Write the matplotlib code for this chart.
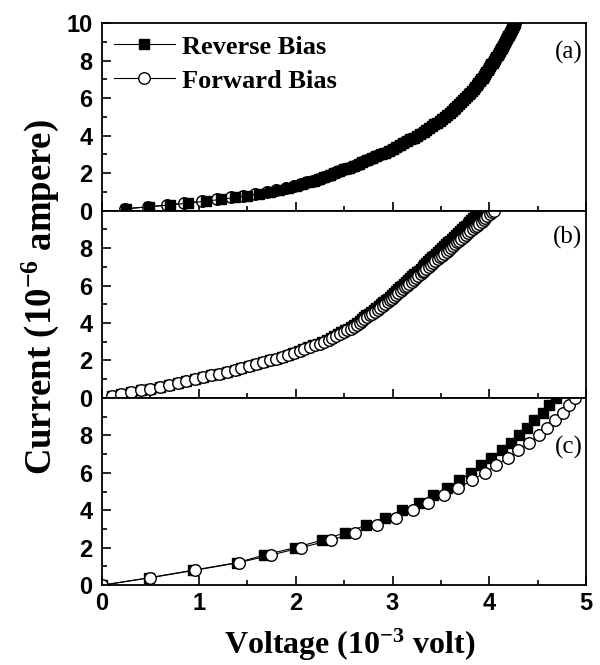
import matplotlib
matplotlib.use("Agg")
import matplotlib.pyplot as plt
import numpy as np
from matplotlib.ticker import MultipleLocator
from matplotlib.font_manager import FontProperties

# current setpoints of the sweep (10^-6 A), 0.1 steps for (a) and (b), 0.4 steps for (c)
current_ab = np.round(np.arange(1, 101) * 0.1, 1)
current_c = np.round(np.arange(0, 26) * 0.4, 1)

# voltages (10^-3 V)
reverse_a = [0.25, 0.49, 0.70, 0.89, 1.07, 1.23, 1.37, 1.50, 1.62, 1.73,
             1.83, 1.92, 2.00, 2.07, 2.13, 2.19, 2.24, 2.29, 2.35, 2.40,
             2.45, 2.50, 2.55, 2.60, 2.65, 2.69, 2.74, 2.79, 2.83, 2.88,
             2.92, 2.96, 3.00, 3.04, 3.08, 3.11, 3.15, 3.18, 3.22, 3.25,
             3.28, 3.32, 3.35, 3.38, 3.41, 3.43, 3.46, 3.49, 3.51, 3.54,
             3.56, 3.59, 3.61, 3.63, 3.65, 3.67, 3.69, 3.71, 3.73, 3.75,
             3.77, 3.79, 3.80, 3.82, 3.84, 3.85, 3.87, 3.88, 3.90, 3.91,
             3.93, 3.94, 3.96, 3.97, 3.99, 4.00, 4.01, 4.02, 4.04, 4.05,
             4.06, 4.07, 4.09, 4.10, 4.11, 4.12, 4.13, 4.14, 4.15, 4.16,
             4.17, 4.18, 4.19, 4.20, 4.21, 4.22, 4.23, 4.24, 4.25, 4.26]
forward_a = [0.24, 0.47, 0.67, 0.85, 1.03, 1.19, 1.33, 1.46, 1.58, 1.70,
             1.80, 1.90, 1.98, 2.05, 2.12, 2.18, 2.24, 2.29, 2.35, 2.40,
             2.45, 2.50, 2.55, 2.60, 2.65, 2.69, 2.74, 2.79, 2.83, 2.88,
             2.92, 2.96, 3.00, 3.04, 3.08, 3.11, 3.15, 3.18, 3.22, 3.25,
             3.28, 3.32, 3.35, 3.38, 3.41, 3.43, 3.46, 3.49, 3.51, 3.54,
             3.56, 3.59, 3.61, 3.63, 3.65, 3.67, 3.69, 3.71, 3.73, 3.75,
             3.77, 3.79, 3.80, 3.82, 3.84, 3.85, 3.87, 3.88, 3.90, 3.91,
             3.93, 3.94, 3.96, 3.97, 3.99, 4.00, 4.01, 4.02, 4.04, 4.05,
             4.06, 4.07, 4.09, 4.10, 4.11, 4.12, 4.13, 4.14, 4.15, 4.16,
             4.17, 4.18, 4.19, 4.20, 4.21, 4.22, 4.23, 4.24, 4.25, 4.26]

reverse_b = [0.10, 0.20, 0.30, 0.40, 0.50, 0.60, 0.69, 0.78, 0.87, 0.96,
             1.04, 1.13, 1.21, 1.29, 1.37, 1.44, 1.52, 1.59, 1.66, 1.73,
             1.80, 1.86, 1.92, 1.97, 2.03, 2.08, 2.13, 2.18, 2.23, 2.27,
             2.32, 2.36, 2.40, 2.44, 2.47, 2.51, 2.54, 2.57, 2.60, 2.63,
             2.66, 2.68, 2.71, 2.73, 2.76, 2.78, 2.81, 2.83, 2.86, 2.88,
             2.90, 2.93, 2.95, 2.97, 2.99, 3.02, 3.04, 3.06, 3.08, 3.10,
             3.12, 3.14, 3.16, 3.18, 3.20, 3.22, 3.25, 3.27, 3.29, 3.31,
             3.33, 3.35, 3.37, 3.39, 3.41, 3.43, 3.45, 3.47, 3.49, 3.51,
             3.53, 3.55, 3.57, 3.59, 3.61, 3.63, 3.66, 3.68, 3.70, 3.72,
             3.74, 3.76, 3.78, 3.79, 3.81, 3.83, 3.85, 3.87, 3.89, 3.91]
forward_b = [0.10, 0.20, 0.30, 0.40, 0.50, 0.60, 0.69, 0.78, 0.87, 0.96,
             1.04, 1.13, 1.21, 1.29, 1.37, 1.44, 1.52, 1.59, 1.66, 1.73,
             1.80, 1.86, 1.92, 1.98, 2.04, 2.09, 2.15, 2.20, 2.25, 2.29,
             2.34, 2.38, 2.42, 2.46, 2.50, 2.53, 2.57, 2.60, 2.63, 2.66,
             2.69, 2.71, 2.74, 2.77, 2.79, 2.82, 2.85, 2.87, 2.90, 2.92,
             2.95, 2.97, 2.99, 3.02, 3.04, 3.06, 3.09, 3.11, 3.13, 3.15,
             3.17, 3.20, 3.22, 3.24, 3.26, 3.29, 3.31, 3.33, 3.35, 3.38,
             3.40, 3.42, 3.44, 3.47, 3.49, 3.51, 3.53, 3.56, 3.58, 3.60,
             3.62, 3.65, 3.67, 3.69, 3.71, 3.74, 3.76, 3.78, 3.80, 3.83,
             3.85, 3.87, 3.89, 3.92, 3.94, 3.96, 3.98, 4.01, 4.03, 4.05]

reverse_c = [0.00, 0.49, 0.94, 1.39, 1.67, 1.99, 2.27, 2.51, 2.73, 2.92,
             3.10, 3.27, 3.42, 3.56, 3.69, 3.81, 3.91, 4.02, 4.13, 4.22,
             4.31, 4.39, 4.46, 4.55, 4.62, 4.69]
forward_c = [0.00, 0.50, 0.96, 1.41, 1.74, 2.05, 2.36, 2.61, 2.84, 3.04,
             3.21, 3.37, 3.53, 3.68, 3.82, 3.95, 4.07, 4.19, 4.30, 4.41,
             4.51, 4.60, 4.68, 4.76, 4.82, 4.88]

panel_tags = ['(a)', '(b)', '(c)']
tag_y = [0.845, 0.855, 0.735]

serif_bold = 'Liberation Serif'
plt.rcParams['font.family'] = ['Liberation Sans', 'DejaVu Sans']
plt.rcParams['font.weight'] = 'bold'
plt.rcParams['mathtext.fontset'] = 'custom'
plt.rcParams['mathtext.rm'] = 'Liberation Serif:bold'
plt.rcParams['mathtext.it'] = 'Liberation Serif:bold'
plt.rcParams['mathtext.bf'] = 'Liberation Serif:bold'

fig, axes = plt.subplots(3, 1, sharex=True, figsize=(6, 6.65), dpi=100)
fig.subplots_adjust(left=0.17, right=0.977, top=0.965, bottom=0.12, hspace=0)

rev_style = dict(color='black', lw=0.8, marker='s', ms=7.8, mfc='black', mec='black')
fwd_style = dict(color='black', lw=0.8, marker='o', ms=8.3, mfc='white', mec='black', mew=1.0)

data = [(reverse_a, forward_a, current_ab),
        (reverse_b, forward_b, current_ab),
        (reverse_c, forward_c, current_c)]

for i, (ax, (rev, fwd, cur)) in enumerate(zip(axes, data)):
    if i == 0:
        # squares sit on top of the circles in the first panel
        l_fwd, = ax.plot(fwd, cur, label='Forward Bias', **fwd_style)
        l_rev, = ax.plot(rev, cur, label='Reverse Bias', **rev_style)
        leg_handles = [l_rev, l_fwd]
    else:
        ax.plot(rev, cur, **rev_style)
        ax.plot(fwd, cur, **fwd_style)

    ax.set_xlim(0, 5)
    ax.set_ylim(0, 10)
    if i == 0:
        ax.set_yticks([0, 2, 4, 6, 8, 10])
    else:
        ax.set_yticks([0, 2, 4, 6, 8])
    ax.yaxis.set_minor_locator(MultipleLocator(1))
    ax.xaxis.set_major_locator(MultipleLocator(1))
    ax.xaxis.set_minor_locator(MultipleLocator(0.5))
    ax.tick_params(which='both', direction='in', top=False, right=False, width=1.2)
    ax.tick_params(which='major', length=6.5, labelsize=17)
    ax.tick_params(axis='y', which='major', pad=7)
    ax.tick_params(axis='x', which='major', pad=5)
    ax.tick_params(which='minor', length=3.5)
    for sp in ax.spines.values():
        sp.set_linewidth(1.3)
    ax.text(0.992, tag_y[i], panel_tags[i], transform=ax.transAxes, ha='right',
            va='center', family=serif_bold, fontweight='normal', fontsize=18)

leg = axes[0].legend(handles=leg_handles, loc='upper left', frameon=False,
                     prop=FontProperties(family=serif_bold, weight='bold', size=19),
                     handlelength=2.3, handletextpad=0.3, borderpad=0.25,
                     borderaxespad=0.2, labelspacing=0.4)

axes[2].set_xlabel('Voltage (10$^{-3}$ volt)', family=serif_bold, fontweight='bold', fontsize=23)
axes[2].xaxis.set_label_coords(0.512, -0.22)
axes[1].set_ylabel('Current (10$^{-6}$ ampere)', family=serif_bold, fontweight='bold', fontsize=26.5)
axes[1].yaxis.set_label_coords(-0.084, 0.54)

fig.savefig('out.png', dpi=100)
